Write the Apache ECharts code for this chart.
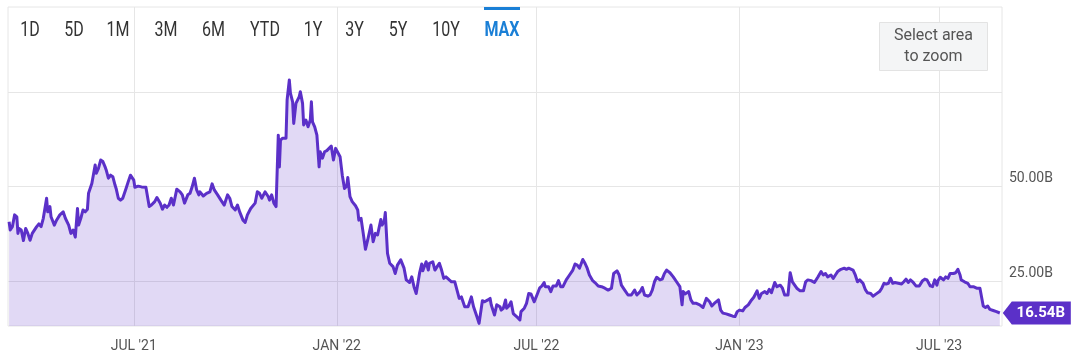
<!DOCTYPE html>
<html>
<head>
<meta charset="utf-8">
<script src="https://cdn.jsdelivr.net/npm/echarts/dist/echarts.min.js"></script>
<style>
html,body{margin:0;padding:0;background:#fff;}
#chart{width:1080px;height:358px;}
</style>
</head>
<body>
<div id="chart"></div>
<script>
// ---- data (market cap, billions) ----
const dates = [
'2021-03-10','2021-03-11','2021-03-13','2021-03-15','2021-03-17','2021-03-18','2021-03-19','2021-03-21','2021-03-23','2021-03-25','2021-03-27','2021-03-29','2021-03-31',
'2021-04-04','2021-04-06','2021-04-08','2021-04-10','2021-04-11','2021-04-13','2021-04-14','2021-04-16','2021-04-17','2021-04-20','2021-04-22','2021-04-25','2021-04-28','2021-04-30',
'2021-05-03','2021-05-05','2021-05-07','2021-05-09','2021-05-11','2021-05-12','2021-05-14','2021-05-16','2021-05-18','2021-05-20','2021-05-21','2021-05-24','2021-05-25','2021-05-27','2021-05-28','2021-05-30',
'2021-06-01','2021-06-03','2021-06-05','2021-06-06','2021-06-08','2021-06-10','2021-06-12','2021-06-14','2021-06-15','2021-06-17','2021-06-19','2021-06-21','2021-06-24','2021-06-26','2021-06-28',
'2021-07-01','2021-07-02','2021-07-05','2021-07-08','2021-07-12','2021-07-15','2021-07-17','2021-07-20','2021-07-22','2021-07-25','2021-07-27','2021-07-29','2021-07-31',
'2021-08-02','2021-08-04','2021-08-06','2021-08-09','2021-08-12','2021-08-14','2021-08-16','2021-08-19','2021-08-21','2021-08-23','2021-08-25','2021-08-27','2021-08-29','2021-08-30',
'2021-09-02','2021-09-05','2021-09-08','2021-09-10','2021-09-12','2021-09-15','2021-09-18','2021-09-21','2021-09-24','2021-09-26','2021-09-28',
'2021-10-01','2021-10-03','2021-10-05','2021-10-08','2021-10-10','2021-10-12','2021-10-15','2021-10-19','2021-10-21','2021-10-23','2021-10-25','2021-10-28','2021-10-31',
'2021-11-01','2021-11-03','2021-11-05','2021-11-07','2021-11-09','2021-11-10','2021-11-11','2021-11-13','2021-11-16','2021-11-17','2021-11-19','2021-11-20','2021-11-22','2021-11-23','2021-11-25','2021-11-26','2021-11-28','2021-11-29',
'2021-12-01','2021-12-02','2021-12-04','2021-12-06','2021-12-08','2021-12-09','2021-12-10','2021-12-12','2021-12-14','2021-12-16','2021-12-17','2021-12-19','2021-12-21','2021-12-23','2021-12-25','2021-12-27','2021-12-29','2021-12-31',
'2022-01-01','2022-01-04','2022-01-06','2022-01-08','2022-01-10','2022-01-11','2022-01-13','2022-01-15','2022-01-18','2022-01-20','2022-01-21','2022-01-23','2022-01-25','2022-01-27','2022-01-29',
'2022-02-01','2022-02-03','2022-02-05','2022-02-07','2022-02-10','2022-02-11','2022-02-13','2022-02-14','2022-02-16','2022-02-18','2022-02-21','2022-02-23','2022-02-25','2022-02-28',
'2022-03-03','2022-03-05','2022-03-08','2022-03-10','2022-03-12','2022-03-14','2022-03-17','2022-03-19','2022-03-20','2022-03-23','2022-03-25','2022-03-26','2022-03-29','2022-03-31',
'2022-04-02','2022-04-04','2022-04-06','2022-04-08','2022-04-10','2022-04-13','2022-04-15','2022-04-18','2022-04-20','2022-04-22','2022-04-24','2022-04-27','2022-04-30',
'2022-05-03','2022-05-05','2022-05-08','2022-05-10','2022-05-13','2022-05-15','2022-05-18','2022-05-20','2022-05-21','2022-05-24','2022-05-26','2022-05-29','2022-05-30',
'2022-06-01','2022-06-03','2022-06-04','2022-06-06','2022-06-08','2022-06-10','2022-06-13','2022-06-16','2022-06-17','2022-06-20','2022-06-22','2022-06-24','2022-06-26','2022-06-29',
'2022-07-02','2022-07-04','2022-07-06','2022-07-08','2022-07-09','2022-07-12','2022-07-14','2022-07-16','2022-07-19','2022-07-21','2022-07-23','2022-07-25','2022-07-28','2022-07-31',
'2022-08-03','2022-08-05','2022-08-07','2022-08-09','2022-08-12','2022-08-14','2022-08-16','2022-08-18','2022-08-21','2022-08-23','2022-08-26','2022-08-29',
'2022-09-01','2022-09-04','2022-09-07','2022-09-09','2022-09-12','2022-09-14','2022-09-16','2022-09-19','2022-09-22','2022-09-25','2022-09-28','2022-09-30',
'2022-10-03','2022-10-05','2022-10-07','2022-10-10','2022-10-12','2022-10-14','2022-10-16','2022-10-18','2022-10-21','2022-10-23','2022-10-25','2022-10-27','2022-10-30',
'2022-11-02','2022-11-05','2022-11-08','2022-11-10','2022-11-11','2022-11-13','2022-11-16','2022-11-18','2022-11-20','2022-11-23','2022-11-26','2022-11-29',
'2022-12-02','2022-12-05','2022-12-07','2022-12-10','2022-12-13','2022-12-15','2022-12-17','2022-12-20','2022-12-23','2022-12-26','2022-12-28','2022-12-30',
'2023-01-01','2023-01-04','2023-01-06','2023-01-09','2023-01-12','2023-01-14','2023-01-17','2023-01-19','2023-01-21','2023-01-24','2023-01-26','2023-01-28','2023-01-30',
'2023-02-02','2023-02-04','2023-02-07','2023-02-09','2023-02-11','2023-02-14','2023-02-16','2023-02-18','2023-02-22','2023-02-25','2023-02-28',
'2023-03-02','2023-03-04','2023-03-07','2023-03-10','2023-03-13','2023-03-16','2023-03-18','2023-03-20','2023-03-22','2023-03-25','2023-03-27','2023-03-29','2023-03-31',
'2023-04-03','2023-04-06','2023-04-08','2023-04-10','2023-04-14','2023-04-16','2023-04-18','2023-04-20','2023-04-23','2023-04-25','2023-04-27','2023-04-30',
'2023-05-02','2023-05-05','2023-05-08','2023-05-10','2023-05-12','2023-05-14','2023-05-16','2023-05-18','2023-05-20','2023-05-22','2023-05-25','2023-05-28','2023-05-30',
'2023-06-01','2023-06-03','2023-06-05','2023-06-07','2023-06-10','2023-06-13','2023-06-16','2023-06-18','2023-06-20','2023-06-23','2023-06-25','2023-06-27','2023-06-29','2023-06-30',
'2023-07-02','2023-07-05','2023-07-07','2023-07-09','2023-07-11','2023-07-14','2023-07-16','2023-07-18','2023-07-20','2023-07-21','2023-07-24','2023-07-27','2023-07-29','2023-07-30',
'2023-08-01','2023-08-04','2023-08-07','2023-08-08','2023-08-10','2023-08-12','2023-08-14','2023-08-16','2023-08-19','2023-08-22','2023-08-25'
];
const marketCap = [
40.7,38.5,39.4,42.5,42.0,37.6,38.9,38.5,35.7,38.9,37.6,35.8,37.6,
39.4,40.1,39.4,41.6,42.0,46.9,43.3,44.7,42.0,39.8,41.1,42.5,43.3,41.6,
39.8,37.6,38.5,36.6,44.2,39.8,41.6,43.8,43.3,44.0,48.2,50.8,51.3,55.7,53.5,54.8,
57.0,56.6,55.2,54.4,52.2,53.0,52.6,50.4,49.5,46.9,46.4,46.9,49.5,51.3,53.0,
51.7,49.8,50.1,49.9,49.8,44.7,45.1,46.0,47.1,45.6,44.0,45.1,44.5,
45.1,46.9,45.1,49.3,48.6,47.8,45.6,47.8,48.2,50.0,52.2,49.1,47.8,48.6,
47.5,48.2,48.6,50.7,49.1,47.8,46.4,45.1,47.8,46.9,44.7,
43.8,45.1,43.3,41.1,40.5,42.5,44.2,45.6,48.6,48.2,46.9,48.6,47.3,
46.4,47.8,45.6,44.7,63.6,55.2,62.3,62.8,62.8,72.9,78.2,74.7,72.4,66.7,72.0,72.4,73.8,75.1,
72.0,66.3,67.6,65.8,67.6,72.4,67.1,65.8,63.6,55.2,59.2,57.5,59.2,59.5,60.1,60.7,57.0,60.1,
59.6,57.9,53.0,49.5,50.1,52.4,47.3,46.0,44.9,43.8,41.1,41.6,37.6,33.4,35.8,
39.8,35.4,37.6,37.2,41.3,39.8,40.7,43.1,32.3,29.7,28.8,27.0,29.2,30.6,
28.4,25.3,24.6,26.1,23.5,21.7,27.0,29.5,27.7,30.1,27.9,29.7,30.1,27.9,
28.8,29.7,27.9,25.7,26.1,25.3,24.8,24.8,22.6,20.4,20.8,18.2,18.2,
20.8,18.2,15.6,13.8,19.8,19.5,20.0,20.4,18.7,16.0,18.7,18.2,17.3,
17.8,20.0,17.8,18.4,19.5,16.4,15.6,14.7,16.9,17.8,19.1,21.7,21.6,19.5,
21.7,23.2,23.7,24.6,23.5,23.5,22.2,23.7,23.7,25.1,23.5,23.5,25.3,26.6,
27.9,29.5,29.2,28.4,30.7,29.7,28.4,26.6,25.1,24.6,23.7,23.5,
23.1,22.6,23.1,27.0,27.7,26.6,23.9,22.6,21.3,21.3,22.6,21.3,
22.2,23.3,21.3,21.0,21.3,22.6,24.8,26.0,25.3,25.5,27.0,27.9,27.2,
26.1,24.8,23.5,18.7,22.2,21.6,22.2,20.0,19.1,19.1,18.7,18.0,
20.4,19.5,18.4,19.3,20.0,17.3,16.5,16.3,16.0,15.7,15.6,16.9,
17.3,17.1,18.0,18.7,20.0,20.7,22.4,20.4,21.7,22.2,21.7,22.8,21.9,
24.6,23.5,23.9,23.1,21.3,21.3,27.2,24.8,23.1,22.4,22.4,
24.8,25.3,25.1,24.6,26.0,27.5,26.6,27.0,26.1,26.6,25.7,26.6,27.5,
28.1,28.4,28.1,28.4,27.9,26.6,24.8,25.3,24.4,22.8,21.9,21.7,
21.0,21.6,22.2,23.1,24.4,24.2,24.4,25.7,24.4,24.6,24.4,24.2,24.8,
25.5,24.6,25.3,24.8,23.7,23.7,25.1,25.5,25.3,23.7,23.5,25.3,23.9,25.1,
26.0,25.3,26.1,25.7,27.0,27.0,27.2,28.1,26.6,25.3,24.8,24.4,23.5,23.9,
23.5,23.1,23.1,22.6,18.4,18.0,18.4,17.5,17.2,16.9,16.54
];
const xTickDates = ['2021-07-01','2022-01-01','2022-07-01','2023-01-01','2023-07-01'];
const xTickLabels = ["JUL '21","JAN '22","JUL '22","JAN '23","JUL '23"];
const xRange = ['2021-03-09', '2023-08-27'];
const yGridValues = [25, 50, 75];
const yLabelValues = [25, 50];
const rangeButtons = ['1D','5D','1M','3M','6M','YTD','1Y','3Y','5Y','10Y','MAX'];
const activeButton = 'MAX';
const zoomHint = ['Select area', 'to zoom'];

// ---- layout ----
const buttonX = [30, 74, 118, 166, 213.5, 265, 313, 354.5, 398, 446, 502];
const LINE = '#5b30c8';
const BLUE = '#1a7fd6';

const toTime = d => echarts.time.parse(d).getTime();
const seriesData = dates.map((d, i) => [toTime(d), marketCap[i]]);
const lastIdx = dates.length - 1;
const tickTimes = xTickDates.map(toTime);

const graphics = [];
rangeButtons.forEach((b, i) => {
  const active = b === activeButton;
  graphics.push({
    type: 'text', x: buttonX[i], y: 31, scaleX: 0.8, z: 10,
    style: {
      text: b, fill: active ? BLUE : '#333',
      font: (active ? 'bold ' : '') + '20px Roboto',
      textAlign: 'center', textVerticalAlign: 'middle'
    }
  });
  if (active) {
    graphics.push({ type: 'rect', z: 10, shape: { x: buttonX[i] - 18, y: 7, width: 36, height: 3 }, style: { fill: BLUE } });
  }
});
graphics.push({ type: 'rect', z: 10, shape: { x: 879.5, y: 22.5, width: 108, height: 48 }, style: { fill: '#f4f5f6', stroke: '#e3e3e3', lineWidth: 1 } });
zoomHint.forEach((t, i) => {
  graphics.push({ type: 'text', z: 11, x: 933.5, y: 36 + i * 21, style: { text: t, fill: '#555', font: '16px Roboto', textAlign: 'center', textVerticalAlign: 'middle' } });
});

const chart = echarts.init(document.getElementById('chart'), null, { renderer: 'canvas' });
chart.setOption({
  animation: false,
  backgroundColor: '#fff',
  grid: { left: 8, right: 78, top: 7, bottom: 32, show: true, borderColor: '#e6e6e6', borderWidth: 1, backgroundColor: 'transparent' },
  xAxis: {
    type: 'value',
    min: toTime(xRange[0]), max: toTime(xRange[1]),
    axisLine: { show: false },
    axisTick: { show: false, customValues: tickTimes },
    splitLine: { show: true, lineStyle: { color: '#e6e6e6', width: 1 } },
    axisLabel: {
      customValues: tickTimes,
      color: '#555', fontFamily: 'Roboto', fontSize: 14, margin: 13,
      formatter: v => { const i = tickTimes.indexOf(v); return i >= 0 ? xTickLabels[i] : ''; }
    }
  },
  yAxis: {
    type: 'value', position: 'right',
    min: 13.1, max: 97.5,
    axisLine: { show: false },
    axisTick: { show: false, customValues: yGridValues },
    splitLine: { show: true, lineStyle: { color: '#e6e6e6', width: 1 } },
    axisLabel: {
      customValues: yLabelValues,
      color: '#555', fontFamily: 'Roboto', fontSize: 14, margin: 7,
      verticalAlign: 'bottom', padding: [0, 0, 1, 0],
      formatter: v => v.toFixed(2) + 'B'
    }
  },
  graphic: graphics,
  series: [{
    type: 'line',
    data: seriesData,
    symbol: 'none',
    lineStyle: { color: LINE, width: 3, join: 'round' },
    itemStyle: { color: LINE },
    areaStyle: { color: 'rgba(94,52,200,0.27)', origin: 'start' },
    markPoint: {
      silent: true,
      symbol: 'path://M0,11.5 L9,0 L68,0 L68,23 L9,23 Z',
      symbolSize: [68, 23],
      symbolOffset: [37, 0],
      itemStyle: { color: LINE },
      label: {
        show: true, position: 'inside', offset: [4, 0],
        color: '#fff', fontWeight: 'bold', fontSize: 15, fontFamily: 'Roboto',
        formatter: p => p.value.toFixed(2) + 'B'
      },
      data: [{ coord: seriesData[lastIdx], value: marketCap[lastIdx] }]
    }
  }]
});
</script>
</body>
</html>
